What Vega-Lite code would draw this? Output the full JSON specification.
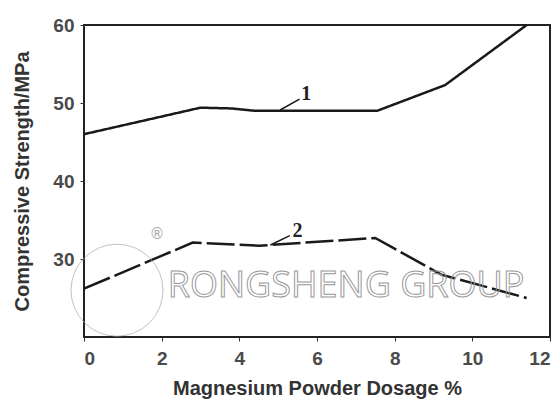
{
  "$schema": "https://vega.github.io/schema/vega-lite/v6.json",
  "autosize": {"type": "none"},
  "width": 466,
  "height": 312,
  "padding": {"left": 84, "top": 25, "right": 10, "bottom": 83},
  "background": "white",
  "config": {
    "view": {"stroke": "#222", "strokeWidth": 2},
    "axis": {"grid": false, "domain": false, "tickColor": "#333", "tickSize": 4,
             "labelFont": "Liberation Sans", "labelFontWeight": "bold", "labelFontSize": 19, "labelColor": "#4a4a4a",
             "titleFont": "Liberation Sans", "titleFontWeight": "bold", "titleFontSize": 20, "titleColor": "#333"}
  },
  "datasets": {
    "curves": [
      {"dosage": 0, "strength": 46.0, "series": "1"},
      {"dosage": 3.0, "strength": 49.4, "series": "1"},
      {"dosage": 3.8, "strength": 49.3, "series": "1"},
      {"dosage": 4.4, "strength": 49.0, "series": "1"},
      {"dosage": 7.55, "strength": 49.0, "series": "1"},
      {"dosage": 9.3, "strength": 52.3, "series": "1"},
      {"dosage": 11.4, "strength": 60.0, "series": "1"},
      {"dosage": 0, "strength": 26.2, "series": "2"},
      {"dosage": 2.8, "strength": 32.1, "series": "2"},
      {"dosage": 4.5, "strength": 31.7, "series": "2"},
      {"dosage": 7.5, "strength": 32.7, "series": "2"},
      {"dosage": 9.2, "strength": 28.0, "series": "2"},
      {"dosage": 11.4, "strength": 25.0, "series": "2"}
    ],
    "tags": [
      {"x": 5.72, "y": 51.2, "label": "1", "x0": 5.05, "y0": 49.1, "x1": 5.55, "y1": 50.5},
      {"x": 5.5, "y": 33.6, "label": "2", "x0": 4.8, "y0": 31.8, "x1": 5.3, "y1": 33.0}
    ],
    "mark": [
      {"x": 6.75, "y": 26.5, "label": "RONGSHENG GROUP", "sym": "®", "sx": 1.88, "sy": 33.2, "cx": 0.85, "cy": 26.0}
    ]
  },
  "layer": [
    {
      "data": {"name": "curves"},
      "mark": {"type": "line", "color": "#1a1a1a", "strokeWidth": 2.5, "clip": true},
      "encoding": {
        "x": {"field": "dosage", "type": "quantitative", "scale": {"domain": [0, 12], "nice": false},
              "axis": {"values": [0, 2, 4, 6, 8, 10, 12], "title": "Magnesium Powder Dosage %", "labelPadding": 8,
                       "titleY": 51, "titleBaseline": "middle"}},
        "y": {"field": "strength", "type": "quantitative", "scale": {"domain": [20, 60], "nice": false, "zero": false},
              "axis": {"values": [30, 40, 50, 60], "title": "Compressive Strength/MPa", "labelPadding": 6,
                       "titleX": -62, "titleY": 156, "titleAngle": -90, "titleBaseline": "middle", "titleAlign": "center"}},
        "detail": {"field": "series"},
        "strokeDash": {"field": "series", "type": "nominal", "legend": null,
                       "scale": {"domain": ["1", "2"], "range": [[1, 0], [28, 5]]}}
      }
    },
    {
      "data": {"name": "tags"},
      "mark": {"type": "rule", "color": "#1a1a1a", "strokeWidth": 1.5},
      "encoding": {
        "x": {"field": "x0", "type": "quantitative"},
        "y": {"field": "y0", "type": "quantitative"},
        "x2": {"field": "x1"},
        "y2": {"field": "y1"}
      }
    },
    {
      "data": {"name": "tags"},
      "mark": {"type": "text", "font": "Liberation Serif", "fontSize": 20, "fontWeight": "bold", "color": "#222"},
      "encoding": {
        "x": {"field": "x", "type": "quantitative"},
        "y": {"field": "y", "type": "quantitative"},
        "text": {"field": "label"}
      }
    },
    {
      "data": {"name": "mark"},
      "mark": {"type": "point", "shape": "circle", "size": 8464, "filled": false, "stroke": "#aaa", "strokeWidth": 1},
      "encoding": {
        "x": {"field": "cx", "type": "quantitative"},
        "y": {"field": "cy", "type": "quantitative"}
      }
    },
    {
      "data": {"name": "mark"},
      "mark": {"type": "text", "font": "Open Sans", "fontSize": 36, "fillOpacity": 0, "stroke": "#999", "strokeWidth": 1},
      "encoding": {
        "x": {"field": "x", "type": "quantitative"},
        "y": {"field": "y", "type": "quantitative"},
        "text": {"field": "label"}
      }
    },
    {
      "data": {"name": "mark"},
      "mark": {"type": "text", "font": "DejaVu Sans", "fontSize": 15, "color": "#aaa"},
      "encoding": {
        "x": {"field": "sx", "type": "quantitative"},
        "y": {"field": "sy", "type": "quantitative"},
        "text": {"field": "sym"}
      }
    }
  ]
}
